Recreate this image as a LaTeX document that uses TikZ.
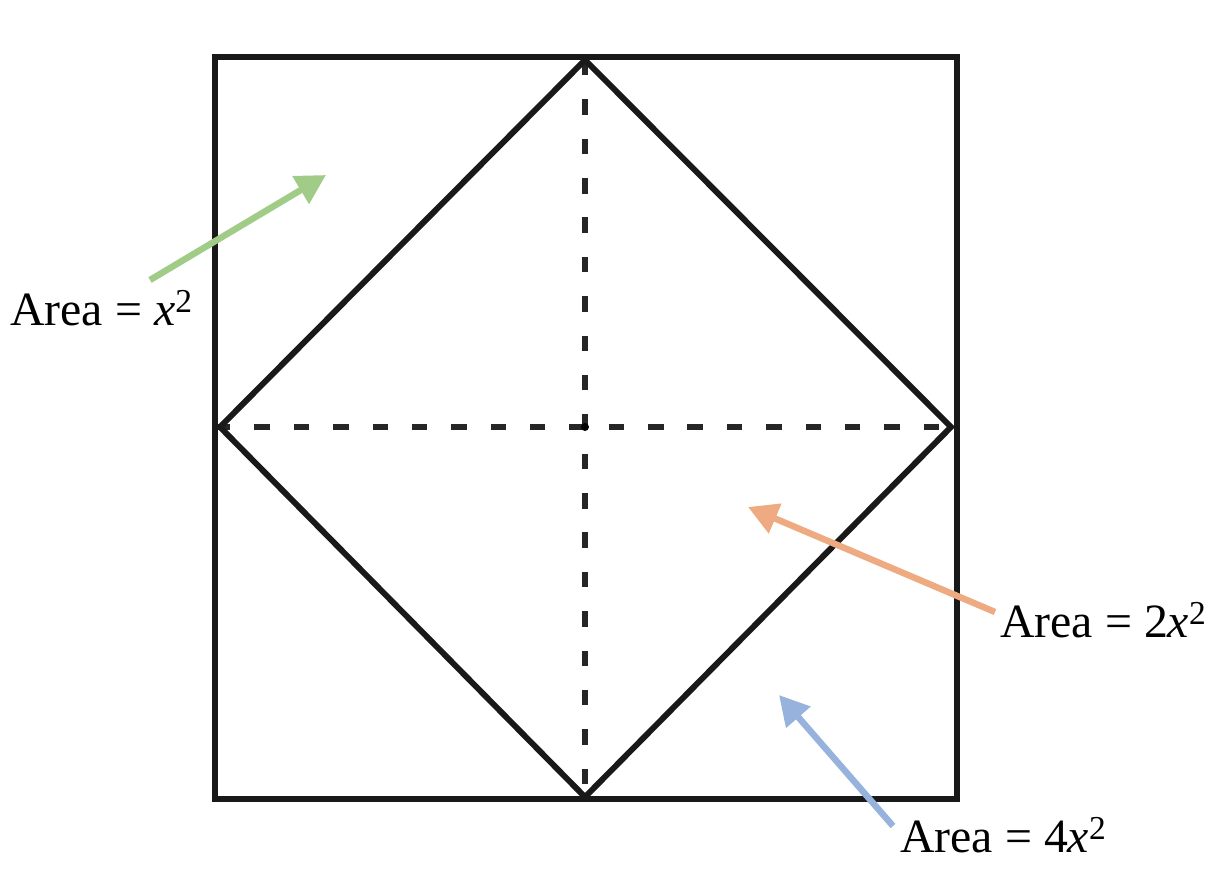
\documentclass[tikz,border=0pt]{standalone}
\usepackage{fontspec}
\setmainfont{Liberation Serif}
\usetikzlibrary{arrows.meta}
\definecolor{grn}{RGB}{160,204,136}
\definecolor{org}{RGB}{238,170,128}
\definecolor{blu}{RGB}{152,178,222}
\tikzset{
  edge/.style={line width=4.2pt, black!90, line join=miter},
  dashln/.style={line width=4.4pt, black!85, dash pattern=on 11pt off 17pt},
  ptr/.style={line width=4.6pt, -{Triangle[length=21pt,width=22pt]}},
  lbl/.style={font=\fontsize{34}{40}\selectfont, anchor=base west, inner sep=0pt}
}
\begin{document}
\begin{tikzpicture}[x=0.025cm,y=-0.025cm]
\useasboundingbox (0,0) rectangle (1207,880);
% outer square corners
\coordinate (TL) at (215,57);
\coordinate (TR) at (957,57);
\coordinate (BR) at (957,799);
\coordinate (BL) at (215,799);
% diamond vertices
\coordinate (T) at (585,60);
\coordinate (R) at (951,427);
\coordinate (B) at (585,797);
\coordinate (L) at (220,427);
\coordinate (Lh) at (215,427);
\coordinate (C) at (585,427);
% dashed lines
\draw[dashln] (Lh) -- (R);
\draw[dashln] (T) -- (B);
\fill (C) circle (4);
% square and diamond
\draw[edge] (TL) -- (TR) -- (BR) -- (BL) -- cycle;
\draw[edge] (T) -- (R) -- (B) -- (L) -- cycle;
% labels
\node[lbl] (a1) at (10,325) {Area = \textit{x}\textsuperscript{2}};
\node[lbl] (a2) at (1000,637) {Area = 2\textit{x}\textsuperscript{2}};
\node[lbl] (a4) at (900,852) {Area = 4\textit{x}\textsuperscript{2}};
% arrows
\coordinate (g0) at (150,280);
\coordinate (g1) at (326,175);
\coordinate (o0) at (995,612);
\coordinate (o1) at (748,507);
\coordinate (b0) at (893,826);
\coordinate (b1) at (779,695);
\draw[ptr, grn] (g0) -- (g1);
\draw[ptr, org] (o0) -- (o1);
\draw[ptr, blu] (b0) -- (b1);
\end{tikzpicture}
\end{document}
